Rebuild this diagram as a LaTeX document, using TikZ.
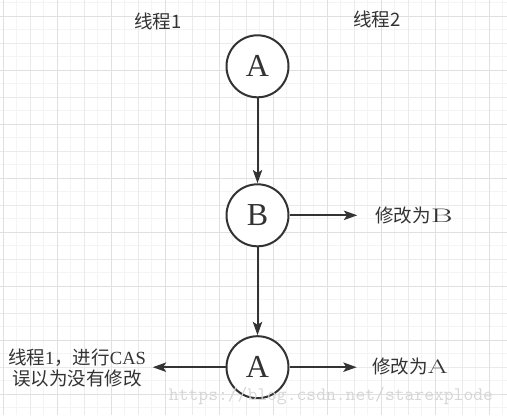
\documentclass[tikz,border=0pt]{standalone}
\usepackage{fontspec}
\setmainfont{Liberation Serif}
\newfontfamily\cjk{Noto Sans CJK SC}
\newfontfamily\wideA[FakeStretch=1.5]{Latin Modern Roman}
\newfontfamily\wideB[FakeStretch=1.7]{Latin Modern Roman}
\usetikzlibrary{arrows.meta}
\definecolor{ink}{HTML}{333333}
\definecolor{gridA}{HTML}{F4F4F4}
\definecolor{gridB}{HTML}{EAEAEA}
\definecolor{gridC}{HTML}{E0E0E0}
\definecolor{wmark}{HTML}{D6D6D6}
\tikzset{
  state/.style={circle, draw=ink, line width=1.5pt, minimum size=46.5pt, inner sep=0pt,
    fill=white, font=\fontsize{24pt}{26pt}\selectfont, text=ink},
  arr/.style={draw=ink, line width=1.5pt, -{Stealth[length=10pt, width=7pt, inset=2.2pt]}},
  lbl/.style={text=ink, inner sep=0pt, font=\fontsize{13.9pt}{15.75pt}\selectfont},
}
\begin{document}
\begin{tikzpicture}[x=0.75pt, y=-0.75pt]
\useasboundingbox (0,0) rectangle (507,415);
\fill[white] (0,0) rectangle (507,415);
% grid
\foreach \i in {0,...,37} {
  \pgfmathsetmacro\gx{3.3+13.5*\i}
  \draw[gridA, line width=0.75pt] (\gx,0) -- (\gx,415);
}
\foreach \i in {0,...,31} {
  \pgfmathsetmacro\gy{2.8+13.5*\i}
  \draw[gridA, line width=0.75pt] (0,\gy) -- (507,\gy);
}
\foreach \i in {0,...,18} {
  \pgfmathsetmacro\gx{3.3+27*\i}
  \draw[gridB, line width=0.75pt] (\gx,0) -- (\gx,415);
}
\foreach \i in {0,...,15} {
  \pgfmathsetmacro\gy{16.3+27*\i}
  \draw[gridB, line width=0.75pt] (0,\gy) -- (507,\gy);
}
\foreach \i in {0,...,9} {
  \pgfmathsetmacro\gx{3.3+54*\i}
  \draw[gridC, line width=0.75pt] (\gx,0) -- (\gx,415);
}
\foreach \i in {0,...,7} {
  \pgfmathsetmacro\gy{16.3+54*\i}
  \draw[gridC, line width=0.75pt] (0,\gy) -- (507,\gy);
}
% labels
\node[lbl] (t1) at (157.7,21.5) {{\cjk 线程1}};
\node[lbl] (t2) at (377,19.5) {{\cjk 线程2}};
% states
\node[state] (A1) at (257.5,66.3) {A};
\node[state] (B) at (257.5,215.3) {B};
\node[state] (A2) at (257.5,367.2) {A};
% free ends
\coordinate (tipB) at (357.3,215.3);
\coordinate (tipL) at (152.7,367.2);
\coordinate (tipR) at (356.7,367.2);
% connectors
\draw[arr] (A1) -- (B);
\draw[arr] (B) -- (A2);
\draw[arr] (B) -- (tipB);
\draw[arr] (A2) -- (tipL);
\draw[arr] (A2) -- (tipR);
% side labels
\node[lbl, anchor=west] (lB) at (375,215.5) {{\cjk 修改为}{\wideB\fontsize{14.7pt}{16pt}\selectfont B}};
\node[lbl, anchor=west] (lA) at (371.8,366.7) {{\cjk 修改为}{\wideA\fontsize{14.7pt}{16pt}\selectfont A}};
\node[lbl, align=center] (lL) at (77,368) {{\cjk 线程}1{\cjk ，进行}CAS\\{\cjk 误以为没有修改}};
% watermark
\node[text=wmark, inner sep=0pt, font=\ttfamily\fontsize{14.3pt}{16pt}\selectfont] (wm) at (331,396) {https://blog.csdn.net/starexplode};
\end{tikzpicture}
\end{document}
